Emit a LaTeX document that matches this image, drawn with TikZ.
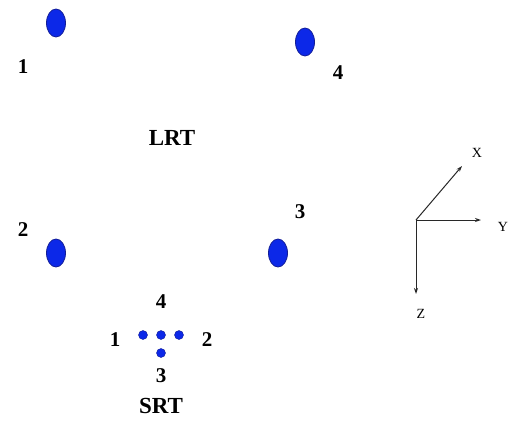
\documentclass[tikz,border=0pt]{standalone}
\usepackage{fontspec}
\setmainfont{Liberation Serif}
\usetikzlibrary{arrows.meta,shapes.geometric}
\definecolor{dotblue}{RGB}{12,40,232}
\definecolor{dotedge}{RGB}{20,30,150}
\definecolor{axisgray}{RGB}{40,40,40}
\begin{document}
\begin{tikzpicture}[x=1pt,y=-1pt,
  bigdot/.style={ellipse,draw=dotedge,line width=0.8pt,fill=dotblue,minimum width=19pt,minimum height=28pt,inner sep=0pt},
  smalldot/.style={circle,fill=dotblue,draw=dotedge,line width=0.4pt,minimum size=9pt,inner sep=0pt},
  lab/.style={font=\fontsize{21}{21}\selectfont\bfseries,inner sep=0pt},
  title/.style={font=\fontsize{23}{23}\selectfont\bfseries,inner sep=0pt},
  axlab/.style={font=\fontsize{14}{14}\selectfont,inner sep=0pt},
  axis/.style={draw=axisgray,line width=1pt,-{Stealth[length=6pt,width=4pt]}}]
\useasboundingbox (0,0) rectangle (514,423);
\fill[white] (0,0) rectangle (514,423);
% large ring
\node[bigdot] (e1) at (56,23) {};
\node[bigdot] (e4) at (305,42) {};
\node[bigdot] (e2) at (56,253) {};
\node[bigdot] (e3) at (278,253) {};
\node[lab] (l1) at (23,67) {1};
\node[lab] (l4) at (338,73) {4};
\node[lab] (l2) at (23,230) {2};
\node[lab] (l3) at (300,212) {3};
\node[title] (lrt) at (172,138) {LRT};
% small ring
\node[smalldot] (s1) at (143,335) {};
\node[smalldot] (s0) at (161,335) {};
\node[smalldot] (s2) at (179,335) {};
\node[smalldot] (s3) at (161,353) {};
\node[lab] (m4) at (161,302) {4};
\node[lab] (m1) at (115,340) {1};
\node[lab] (m2) at (207,340) {2};
\node[lab] (m3) at (161,376) {3};
\node[title] (srt) at (161,406) {SRT};
% axes
\coordinate (o) at (416,220);
\coordinate (xt) at (462,166);
\coordinate (yt) at (481,220);
\coordinate (zt) at (416,294);
\draw[axis] (o) -- (xt);
\draw[axis] (o) -- (yt);
\draw[axis] (o) -- (zt);
\node[axlab] (xl) at (477,153) {X};
\node[axlab] (yl) at (503,227) {Y};
\node[axlab] (zl) at (421,314) {Z};
\end{tikzpicture}
\end{document}
